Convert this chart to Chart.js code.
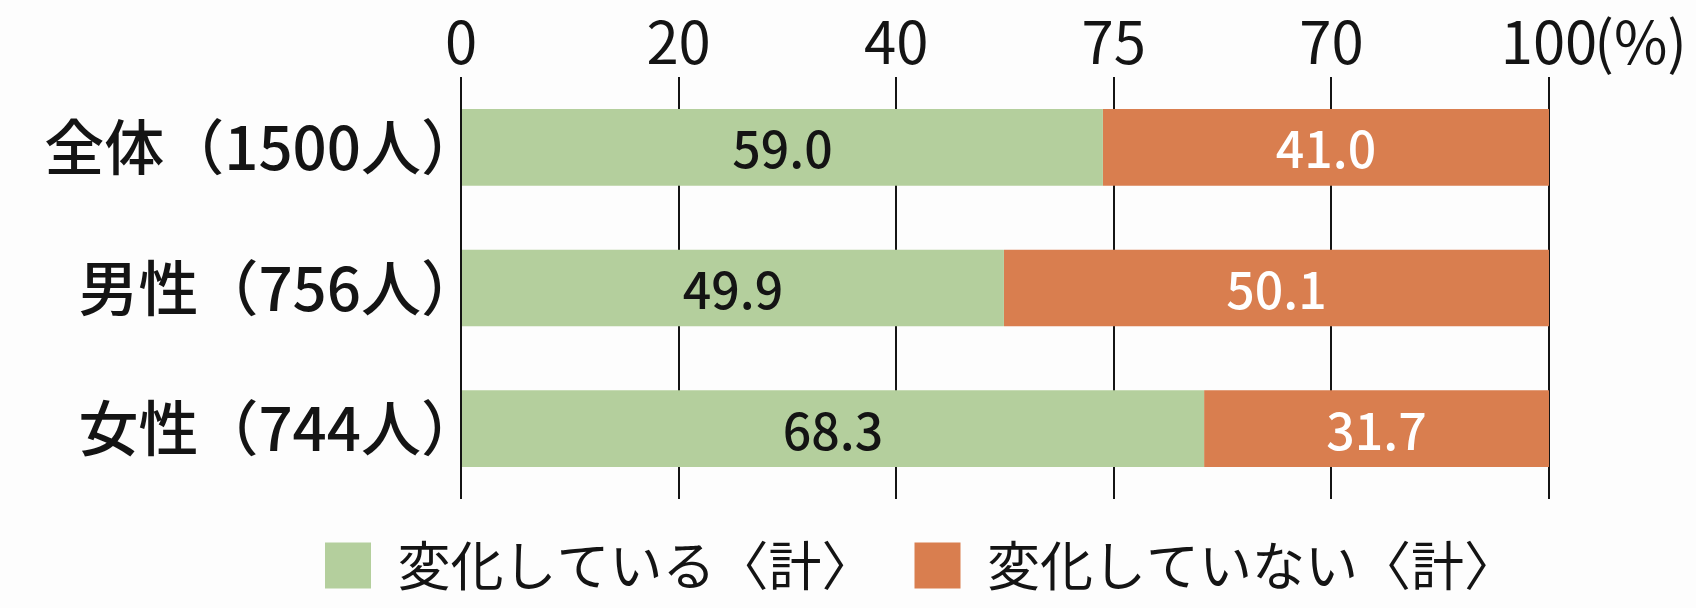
<!DOCTYPE html>
<html lang="ja">
<head>
<meta charset="utf-8">
<title>変化している／変化していない</title>
<script src="https://cdn.jsdelivr.net/npm/chart.js@4/dist/chart.umd.min.js"></script>
<style>
  html, body { margin: 0; padding: 0; background: #fdfdfd; }
  #chart { display: block; }
</style>
</head>
<body>
<canvas id="chart" width="1696" height="608"></canvas>
<script>
const groups = ['全体（1500人）', '男性（756人）', '女性（744人）'];
const changed = [59.0, 49.9, 68.3];
const notChanged = [41.0, 50.1, 31.7];
const seriesNames = ['変化している〈計〉', '変化していない〈計〉'];
const tickValues = [0, 20, 40, 60, 80, 100];
const tickLabels = ['0', '20', '40', '75', '70', '100'];

const FONT = "'Noto Sans CJK JP', 'Noto Sans', sans-serif";
const GREEN = '#b4cf9d';
const ORANGE = '#d97e4f';
const INK = '#141414';
const TICK_SIZE = 58;

// numbers inside the bars
const barLabels = {
  id: 'barLabels',
  afterDatasetsDraw(chart) {
    const ctx = chart.ctx;
    ctx.save();
    ctx.font = '500 50px ' + FONT;
    ctx.textAlign = 'center';
    ctx.textBaseline = 'middle';
    chart.data.datasets.forEach((ds, i) => {
      const meta = chart.getDatasetMeta(i);
      meta.data.forEach((bar, j) => {
        ctx.fillStyle = i === 0 ? INK : '#ffffff';
        ctx.fillText(ds.data[j].toFixed(1), (bar.base + bar.x) / 2, bar.y + 2);
      });
    });
    ctx.restore();
  }
};

// "(%)" written right after the last tick label
const percentUnit = {
  id: 'percentUnit',
  afterDraw(chart) {
    const x = chart.scales.x;
    const ctx = chart.ctx;
    ctx.save();
    ctx.font = TICK_SIZE + 'px ' + FONT;
    ctx.fillStyle = INK;
    ctx.textAlign = 'left';
    ctx.textBaseline = 'middle';
    const half = ctx.measureText(tickLabels[tickLabels.length - 1]).width / 2;
    const py = x.bottom - x.options.ticks.padding - TICK_SIZE * 1.2 / 2;
    ctx.fillText('(%)', x.getPixelForValue(100) + half - 3, py);
    ctx.restore();
  }
};

new Chart(document.getElementById('chart'), {
  type: 'bar',
  data: {
    labels: groups,
    datasets: [
      { label: seriesNames[0], data: changed, backgroundColor: GREEN, borderWidth: 0 },
      { label: seriesNames[1], data: notChanged, backgroundColor: ORANGE, borderWidth: 0 }
    ]
  },
  options: {
    indexAxis: 'y',
    responsive: false,
    animation: false,
    devicePixelRatio: 1,
    categoryPercentage: 1,
    barPercentage: 0.545,
    // negative right padding only moves the legend centre; chart area is clamped
    layout: { padding: { left: 20, right: -126, top: 0, bottom: 6 } },
    scales: {
      x: {
        position: 'top',
        stacked: true,
        min: 0,
        max: 100,
        afterBuildTicks(scale) {
          scale.ticks = tickValues.map(v => ({ value: v }));
        },
        afterFit(scale) {
          scale.height = 77;
          scale.paddingRight = 147;
        },
        grid: { color: INK, lineWidth: 2, drawTicks: false },
        border: { display: false },
        ticks: {
          padding: 0,
          color: INK,
          font: { family: FONT, size: TICK_SIZE },
          maxRotation: 0,
          autoSkip: false,
          callback: (v, i) => tickLabels[i]
        }
      },
      y: {
        stacked: true,
        afterFit(scale) {
          scale.width = 461 - 20;
        },
        grid: { display: false },
        border: { display: false },
        ticks: {
          padding: -28,
          color: INK,
          font: { family: FONT, size: 60, weight: '500' }
        }
      }
    },
    plugins: {
      legend: {
        position: 'bottom',
        labels: {
          boxWidth: 46,
          boxHeight: 46,
          padding: 40,
          color: INK,
          font: { family: FONT, size: 53 }
        }
      },
      tooltip: { enabled: false }
    }
  },
  plugins: [barLabels, percentUnit]
});
</script>
</body>
</html>
